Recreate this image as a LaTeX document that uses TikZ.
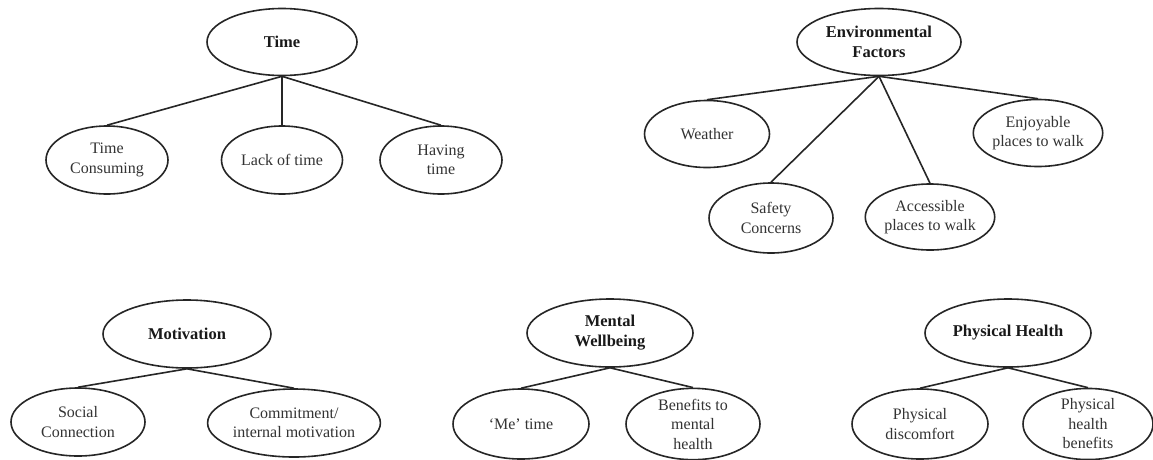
\documentclass[tikz,border=0pt]{standalone}
\usepackage{fontspec}
\setmainfont{Liberation Serif}
\usetikzlibrary{shapes.geometric}
\begin{document}
\begin{tikzpicture}[x=1pt,y=-1pt,
  ov/.style={draw=black!85, ellipse, line width=1.6pt, inner sep=0pt, align=center,
    font=\fontsize{16}{19.5}\selectfont, text=black!80},
  hd/.style={ov, font=\fontsize{16.5}{20}\selectfont\bfseries, text=black!90},
  ln/.style={draw=black!85, line width=1.6pt}]
\clip (0,0) rectangle (1153,459);
\fill[white] (0,0) rectangle (1153,459);
% Time
\node[hd, minimum width=150pt, minimum height=67pt] (time) at (282,42) {Time};
\node[ov, minimum width=122pt, minimum height=68pt] (tc) at (107,160) {Time\\Consuming};
\node[ov, minimum width=121pt, minimum height=68pt] (lt) at (282,160) {Lack of time};
\node[ov, minimum width=122pt, minimum height=68pt] (ht) at (441,160) {Having\\time};
\draw[ln] (time.south) -- (tc.north);
\draw[ln] (time.south) -- (lt.north);
\draw[ln] (time.south) -- (ht.north);
% Environmental
\node[hd, minimum width=164pt, minimum height=67pt] (env) at (879,42) {Environmental\\Factors};
\node[ov, minimum width=125pt, minimum height=67pt] (we) at (707,134) {Weather};
\node[ov, minimum width=124pt, minimum height=67pt] (ej) at (1038,133) {Enjoyable\\places to walk};
\node[ov, minimum width=124pt, minimum height=70pt] (sc) at (771,218) {Safety\\Concerns};
\node[ov, minimum width=126pt, minimum height=66pt] (ac) at (930,217) {Accessible\\places to walk};
\draw[ln] (env.south) -- (we.north);
\draw[ln] (env.south) -- (sc.north);
\draw[ln] (env.south) -- (ac.north);
\draw[ln] (env.south) -- (ej.north);
% Motivation
\node[hd, minimum width=168pt, minimum height=68pt] (mot) at (187,334) {Motivation};
\node[ov, minimum width=134pt, minimum height=68pt] (soc) at (78,422) {Social\\Connection};
\node[ov, minimum width=156pt, minimum height=68pt] (com) at (294,423) {Commitment/\\internal motivation};
\draw[ln] (mot.south) -- (soc.north);
\draw[ln] (mot.south) -- (com.north);
% Mental Wellbeing
\node[hd, minimum width=166pt, minimum height=68pt] (mw) at (610,333) {Mental\\Wellbeing};
\node[ov, minimum width=136pt, minimum height=70pt] (me) at (521,424) {`Me' time};
\node[ov, minimum width=134pt, minimum height=70pt] (bm) at (693,424) {Benefits to\\mental\\health};
\draw[ln] (mw.south) -- (me.north);
\draw[ln] (mw.south) -- (bm.north);
% Physical Health
\node[hd, minimum width=166pt, minimum height=68pt] (ph) at (1008,333) {Physical Health};
\node[ov, minimum width=136pt, minimum height=70pt] (pd) at (920,424) {Physical\\discomfort};
\node[ov, minimum width=130pt, minimum height=70pt] (pb) at (1088,424) {Physical\\health\\benefits};
\draw[ln] (ph.south) -- (pd.north);
\draw[ln] (ph.south) -- (pb.north);
\end{tikzpicture}
\end{document}
